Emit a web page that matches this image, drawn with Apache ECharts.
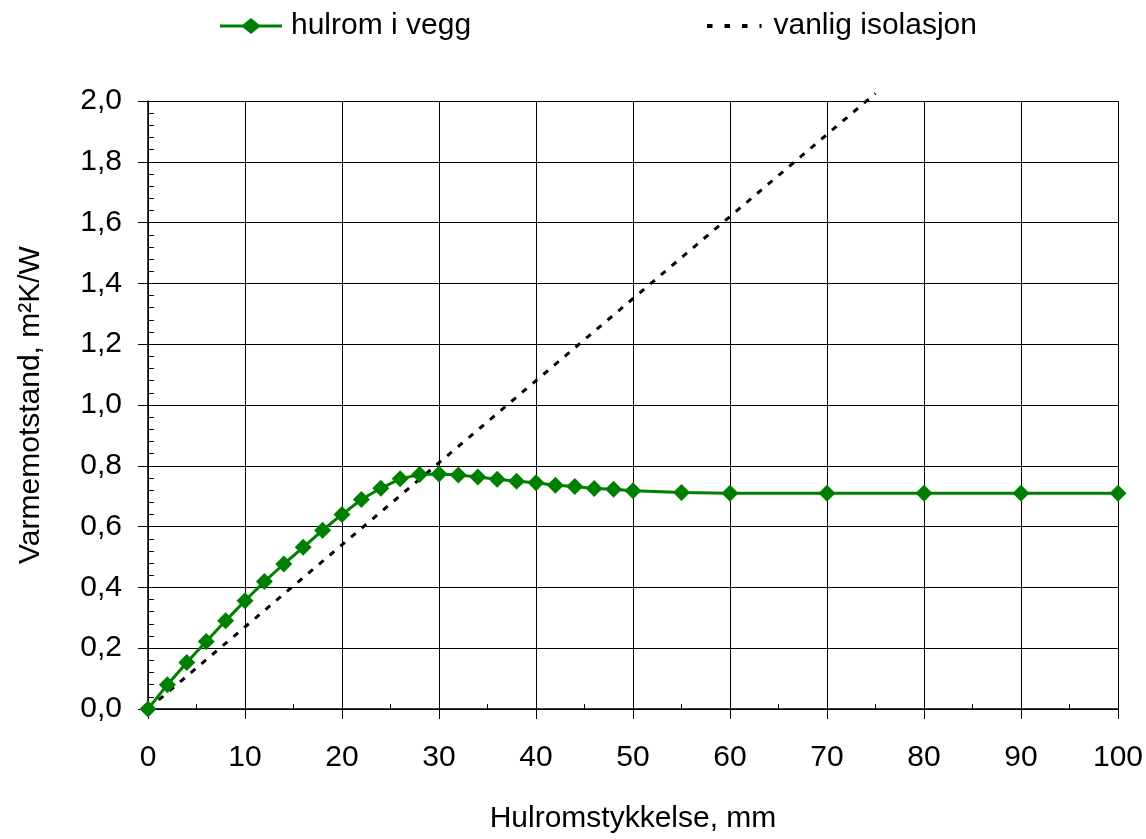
<!DOCTYPE html>
<html>
<head>
<meta charset="utf-8">
<script src="https://cdn.jsdelivr.net/npm/echarts@6/dist/echarts.min.js"></script>
<style>
  html, body { margin: 0; padding: 0; background: #fff; }
  #chart { width: 1146px; height: 839px; }
</style>
</head>
<body>
<div id="chart"></div>
<script>
// Cavity thickness (mm) and thermal resistance of the air cavity
const thickness = [0, 2, 4, 6, 8, 10, 12, 14, 16, 18, 20, 22, 24, 26, 28, 30, 32, 34, 36, 38, 40, 42, 44, 46, 48, 50, 55, 60, 70, 80, 90, 100];
const cavityR = [0.0, 0.080, 0.153, 0.222, 0.290, 0.356, 0.419, 0.477, 0.532, 0.588, 0.640, 0.689, 0.726, 0.757, 0.771, 0.773, 0.770, 0.763, 0.756, 0.749, 0.744, 0.736, 0.732, 0.725, 0.723, 0.718, 0.712, 0.710, 0.710, 0.710, 0.710, 0.710];

// Ordinary insulation of the same thickness
const insulThickness = [0, 75];
const insulR = [0, 2.025];

const yTicks = ['0,0', '0,2', '0,4', '0,6', '0,8', '1,0', '1,2', '1,4', '1,6', '1,8', '2,0'];

const FONT = '"Liberation Sans", Arial, sans-serif';
const FS = 30;
const GREEN = '#008000';

// legend glyphs: line with a diamond, and a row of short dashes
const ICON_CAVITY = 'path://M0,6.5H23L31,0L39,6.5H62V9.5H39L31,16L23,9.5H0Z';
const ICON_INSUL = 'path://M0,0h5.5v4h-5.5z M17.5,0h5.5v4h-5.5z M35,0h5.5v4h-5.5z M52.5,0h2v4h-2z';

const chart = echarts.init(document.getElementById('chart'), null, { renderer: 'canvas' });

const pair = (xs, ys) => xs.map((x, i) => [x, ys[i]]);

chart.setOption({
  animation: false,
  backgroundColor: '#ffffff',
  textStyle: { fontFamily: FONT },
  grid: { left: 148, right: 23, top: 101, bottom: 124, containLabel: false },
  legend: [
    {
      data: [{ name: 'hulrom i vegg', icon: ICON_CAVITY }],
      left: 215, top: 6,
      itemWidth: 62, itemHeight: 16, itemGap: 0,
      textStyle: { fontFamily: FONT, fontSize: FS, color: '#000', padding: [0, 0, 0, 4] }
    },
    {
      data: [{ name: 'vanlig isolasjon', icon: ICON_INSUL }],
      left: 702, top: 6,
      itemWidth: 54.5, itemHeight: 4, itemGap: 0,
      textStyle: { fontFamily: FONT, fontSize: FS, color: '#000', padding: [0, 0, 0, 7] }
    }
  ],
  xAxis: [
    {
      type: 'value', min: 0, max: 100, interval: 10,
      name: 'Hulromstykkelse, mm', nameLocation: 'middle', nameGap: 95,
      nameTextStyle: { fontFamily: FONT, fontSize: FS, color: '#000' },
      axisLine: { show: true, onZero: false, lineStyle: { color: '#000', width: 1.5 } },
      axisTick: { show: true, inside: false, length: 10, lineStyle: { color: '#000', width: 1 } },
      axisLabel: { fontFamily: FONT, fontSize: FS, color: '#000', margin: 34 },
      splitLine: { show: true, lineStyle: { color: '#000', width: 1 } }
    },
    {
      // half-step tick marks pointing into the plot
      type: 'value', min: 0, max: 100, interval: 5, position: 'bottom',
      axisLine: { show: false },
      axisTick: { show: true, inside: true, length: 5, lineStyle: { color: '#000', width: 1 } },
      axisLabel: { show: false },
      splitLine: { show: false }
    }
  ],
  yAxis: [
    {
      type: 'value', min: 0, max: 2, interval: 0.2,
      name: 'Varmemotstand, m²K/W', nameLocation: 'middle', nameGap: 102, nameRotate: 90,
      nameTextStyle: { fontFamily: FONT, fontSize: FS, color: '#000' },
      axisLine: { show: true, onZero: false, lineStyle: { color: '#000', width: 1.5 } },
      axisTick: { show: true, inside: false, length: 10, lineStyle: { color: '#000', width: 1 } },
      axisLabel: {
        fontFamily: FONT, fontSize: FS, color: '#000', margin: 26,
        formatter: (v) => yTicks[Math.round(v / 0.2)]
      },
      splitLine: { show: true, lineStyle: { color: '#000', width: 1 } }
    },
    {
      // fine tick marks pointing into the plot
      type: 'value', min: 0, max: 2, interval: 0.04, position: 'left',
      axisLine: { show: false },
      axisTick: { show: true, inside: true, length: 6, lineStyle: { color: '#000', width: 1 } },
      axisLabel: { show: false },
      splitLine: { show: false }
    }
  ],
  series: [
    {
      name: 'vanlig isolasjon',
      type: 'line',
      xAxisIndex: 0, yAxisIndex: 0,
      data: pair(insulThickness, insulR),
      clip: false,
      symbol: 'none',
      z: 2,
      itemStyle: { color: '#000' },
      lineStyle: { color: '#000', width: 3, type: [6, 8] }
    },
    {
      name: 'hulrom i vegg',
      type: 'line',
      xAxisIndex: 0, yAxisIndex: 0,
      data: pair(thickness, cavityR),
      clip: false,
      symbol: 'diamond',
      symbolSize: 17,
      z: 3,
      itemStyle: { color: GREEN },
      lineStyle: { color: GREEN, width: 3 }
    }
  ]
});
</script>
</body>
</html>
